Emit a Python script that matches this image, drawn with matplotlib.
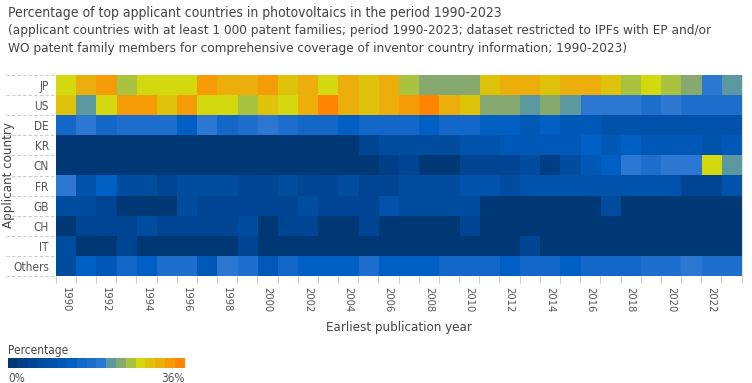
import matplotlib
matplotlib.use("Agg")
import matplotlib.pyplot as plt
import numpy as np
from matplotlib.colors import ListedColormap, BoundaryNorm

plt.rcParams['font.family'] = ['DejaVu Sans']
plt.rcParams['font.stretch'] = 'condensed'

years = list(range(1990, 2024))
countries = ["JP", "US", "DE", "KR", "CN", "FR", "GB", "CH", "IT", "Others"]

# share of patent families per year (%)
jp = [27, 31, 33, 25, 27, 27, 27, 33, 31, 31, 33, 29, 31, 27, 31, 29, 31,
      25, 23, 23, 23, 29, 31, 31, 29, 31, 31, 29, 25, 27, 25, 23, 19, 21]
us = [29, 21, 27, 33, 33, 29, 33, 27, 27, 25, 29, 27, 31, 35, 31, 29, 31,
      33, 35, 31, 29, 23, 23, 21, 23, 21, 19, 19, 19, 17, 19, 17, 17, 17]
de = [15, 19, 15, 17, 17, 17, 13, 19, 15, 17, 19, 17, 15, 15, 13, 15, 15,
      15, 13, 15, 15, 13, 13, 11, 13, 11, 11, 9, 9, 9, 9, 9, 9, 9]
kr = [1, 1, 1, 1, 1, 1, 1, 1, 1, 1, 1, 1, 1, 1, 1, 5, 7,
      7, 7, 7, 9, 9, 11, 11, 11, 11, 13, 11, 13, 11, 11, 11, 9, 11]
cn = [1, 1, 1, 1, 1, 1, 1, 1, 1, 1, 1, 1, 1, 1, 1, 1, 3,
      5, 1, 1, 5, 5, 5, 7, 3, 7, 11, 13, 19, 17, 19, 19, 27, 21]
fr = [19, 9, 13, 7, 7, 5, 7, 7, 7, 5, 5, 7, 5, 5, 7, 5, 5,
      7, 7, 7, 9, 9, 7, 9, 9, 9, 9, 9, 9, 9, 9, 5, 5, 9]
gb = [7, 7, 5, 1, 1, 1, 7, 5, 5, 5, 5, 5, 7, 5, 5, 5, 9,
      7, 7, 7, 7, 1, 1, 1, 1, 1, 1, 7, 1, 1, 1, 1, 1, 1]
ch = [1, 5, 5, 5, 7, 5, 5, 5, 5, 7, 1, 5, 5, 1, 1, 5, 1,
      1, 1, 1, 5, 1, 1, 1, 1, 1, 1, 1, 1, 1, 1, 1, 1, 1]
it = [7, 1, 1, 5, 1, 1, 1, 1, 1, 5, 1, 1, 1, 1, 1, 1, 1,
      1, 1, 1, 1, 1, 1, 5, 1, 1, 1, 1, 1, 1, 1, 1, 1, 1]
others = [7, 13, 11, 15, 13, 17, 17, 11, 19, 17, 11, 15, 13, 13, 13, 17, 13,
          13, 13, 15, 15, 15, 13, 15, 15, 13, 15, 15, 15, 17, 17, 19, 17, 17]

colors = ["#003875", "#003f86", "#004593", "#004c9f", "#0052aa", "#0058b6",
          "#005fc2", "#1367c8", "#1e6ecd", "#2b77d2", "#5b98a0", "#86a96f",
          "#a9c23f", "#d3d90e", "#dfc30a", "#ebae0a", "#f69b08", "#ff8400"]
cmap = ListedColormap(colors)
bounds = np.arange(0, 37, 2)
norm = BoundaryNorm(bounds, cmap.N)

data = np.array([jp, us, de, kr, cn, fr, gb, ch, it, others])

txt = "#444444"
fig = plt.figure(figsize=(7.52, 3.83), dpi=100)

fig.text(0.011, 0.966, "Percentage of top applicant countries in photovoltaics in the period 1990-2023",
         fontsize=10, color=txt, va="center")
fig.text(0.011, 0.921, "(applicant countries with at least 1 000 patent families; period 1990-2023; dataset restricted to IPFs with EP and/or",
         fontsize=9.7, color=txt, va="center")
fig.text(0.011, 0.874, "WO patent family members for comprehensive coverage of inventor country information; 1990-2023)",
         fontsize=9.7, color=txt, va="center")

ax = fig.add_axes([0.0741, 0.2794, 0.912, 0.5246])
ax.imshow(data, cmap=cmap, norm=norm, aspect="auto", interpolation="nearest")

ax.set_yticks(range(len(countries)))
ax.set_yticklabels(countries, fontsize=8.5, color="#555555")
ax.tick_params(axis="y", length=0, pad=5)

ax.set_xticks(range(0, len(years), 2))
ax.set_xticklabels([str(y) for y in years[::2]], rotation=270, fontsize=8, color="#555555")
ax.set_xticks(np.arange(-0.5, len(years), 1), minor=True)
ax.tick_params(axis="x", which="major", length=0, pad=8)
ax.tick_params(axis="x", which="minor", length=5, color="#cccccc", width=0.8)

for s in ax.spines.values():
    s.set_visible(False)
ax.spines["right"].set_visible(True)
ax.spines["right"].set_color("#dddddd")

# dashed row separators on the label side
for yb in np.arange(-0.5, len(countries) + 0.5, 1):
    ax.plot([-0.072, 0], [yb, yb], transform=ax.get_yaxis_transform(),
            color="#cccccc", lw=0.8, ls=(0, (3, 2)), clip_on=False)

ax.set_ylabel("Applicant country", fontsize=9.5, color=txt)
ax.yaxis.set_label_coords(-0.059, 0.5)
ax.set_xlabel("Earliest publication year", fontsize=9.5, color=txt)
ax.xaxis.set_label_coords(0.5, -0.225)

# legend colour bar
cax = fig.add_axes([0.0106, 0.039, 0.235, 0.026])
sm = plt.cm.ScalarMappable(cmap=cmap, norm=norm)
cb = fig.colorbar(sm, cax=cax, orientation="horizontal")
cb.outline.set_visible(False)
cax.set_xticks([])
cax.set_xticks([], minor=True)
cax.tick_params(which="both", length=0)
fig.text(0.0106, 0.086, "Percentage", fontsize=8.5, color=txt, va="center")
fig.text(0.0106, 0.013, "0%", fontsize=8.5, color="#555555", va="center")
fig.text(0.246, 0.013, "36%", fontsize=8.5, color="#555555", va="center", ha="right")

fig.savefig("out.png", dpi=100)
